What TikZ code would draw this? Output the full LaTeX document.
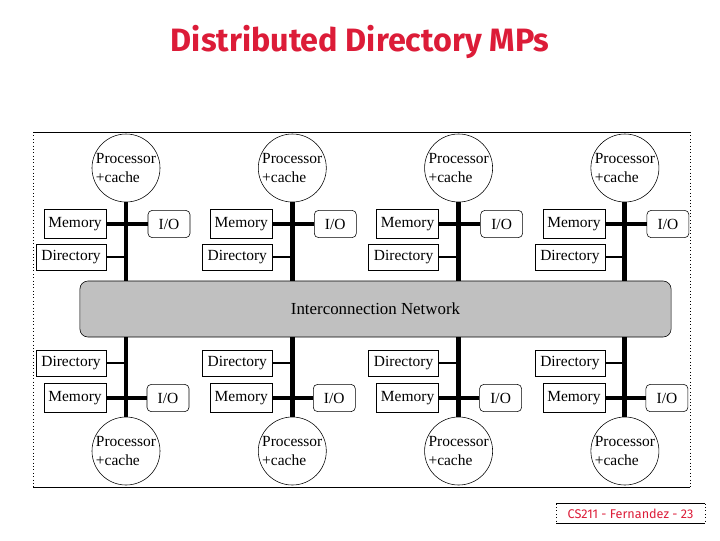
\documentclass[tikz,border=0pt]{standalone}
\usepackage{fontspec}
\setmainfont{Liberation Serif}
\newfontfamily\titlefont{Fira Sans}
\usetikzlibrary{positioning}
\definecolor{titlered}{RGB}{220,28,56}
\definecolor{netgray}{RGB}{192,192,192}

\begin{document}
\begin{tikzpicture}[
    x=0.025cm, y=-0.025cm,
    proc/.style={draw, circle, minimum size=1.7cm, inner sep=0pt, align=left, font=\fontsize{11}{13}\selectfont},
    unit/.style={draw, rectangle, inner sep=1pt, font=\fontsize{11}{13}\selectfont},
    mem/.style={unit, minimum width=1.55cm, minimum height=0.72cm},
    dir/.style={unit, minimum width=1.75cm, minimum height=0.66cm},
    io/.style={unit, rounded corners=3pt, minimum width=1.05cm, minimum height=0.68cm},
    bus/.style={line width=3.5pt},
    tap/.style={line width=1.4pt}
]
    \useasboundingbox (0,0) rectangle (720,540);

    \node[font=\titlefont\bfseries\fontsize{23}{26}\selectfont, text=titlered] (title) at (360,42) {Distributed Directory MPs};

    % frame of the figure
    \draw (33,132) -- (690,132);
    \draw (33,487) -- (690,487);
    \draw[dotted] (33,132) -- (33,487);
    \draw[dotted] (690,132) -- (690,487);

    \node[draw, fill=netgray, rounded corners=0.2cm, minimum width=14.775cm, minimum height=1.4cm,
          font=\fontsize{12}{14}\selectfont] (net) at (375.5,309) {Interconnection Network};

    \foreach \i in {0,...,3} {
        \pgfmathsetmacro{\c}{126+166.3*\i}
        % upper half
        \node[proc] (pt\i) at (\c,168) {Processor\\+cache};
        \node[mem] (mt\i) at (\c-51,224) {Memory};
        \node[io] (it\i) at (\c+43,224) {I/O};
        \node[dir] (dt\i) at (\c-55,257) {Directory};
        \draw[bus] (pt\i.south) -- (pt\i.south |- net.north);
        \draw[bus] (mt\i) -- (it\i);
        \draw[tap] (dt\i) -- (dt\i -| pt\i);
        % lower half
        \node[proc] (pb\i) at (\c,451) {Processor\\+cache};
        \node[dir] (db\i) at (\c-55,363) {Directory};
        \node[mem] (mb\i) at (\c-51,398) {Memory};
        \node[io] (ib\i) at (\c+42,398) {I/O};
        \draw[bus] (pb\i.north) -- (pb\i.north |- net.south);
        \draw[bus] (mb\i) -- (ib\i);
        \draw[tap] (db\i) -- (db\i -| pb\i);
    }

    \node[minimum width=3.7cm, minimum height=0.475cm, text=titlered,
          font=\titlefont\fontsize{9}{11}\selectfont] (foot) at (630.5,513.5) {CS211 - Fernandez - 23};
    \draw (foot.north west) -- (foot.north east);
    \draw (foot.south west) -- (foot.south east);
    \draw[dotted] (foot.north west) -- (foot.south west);
    \draw[dotted] (foot.north east) -- (foot.south east);
\end{tikzpicture}
\end{document}
